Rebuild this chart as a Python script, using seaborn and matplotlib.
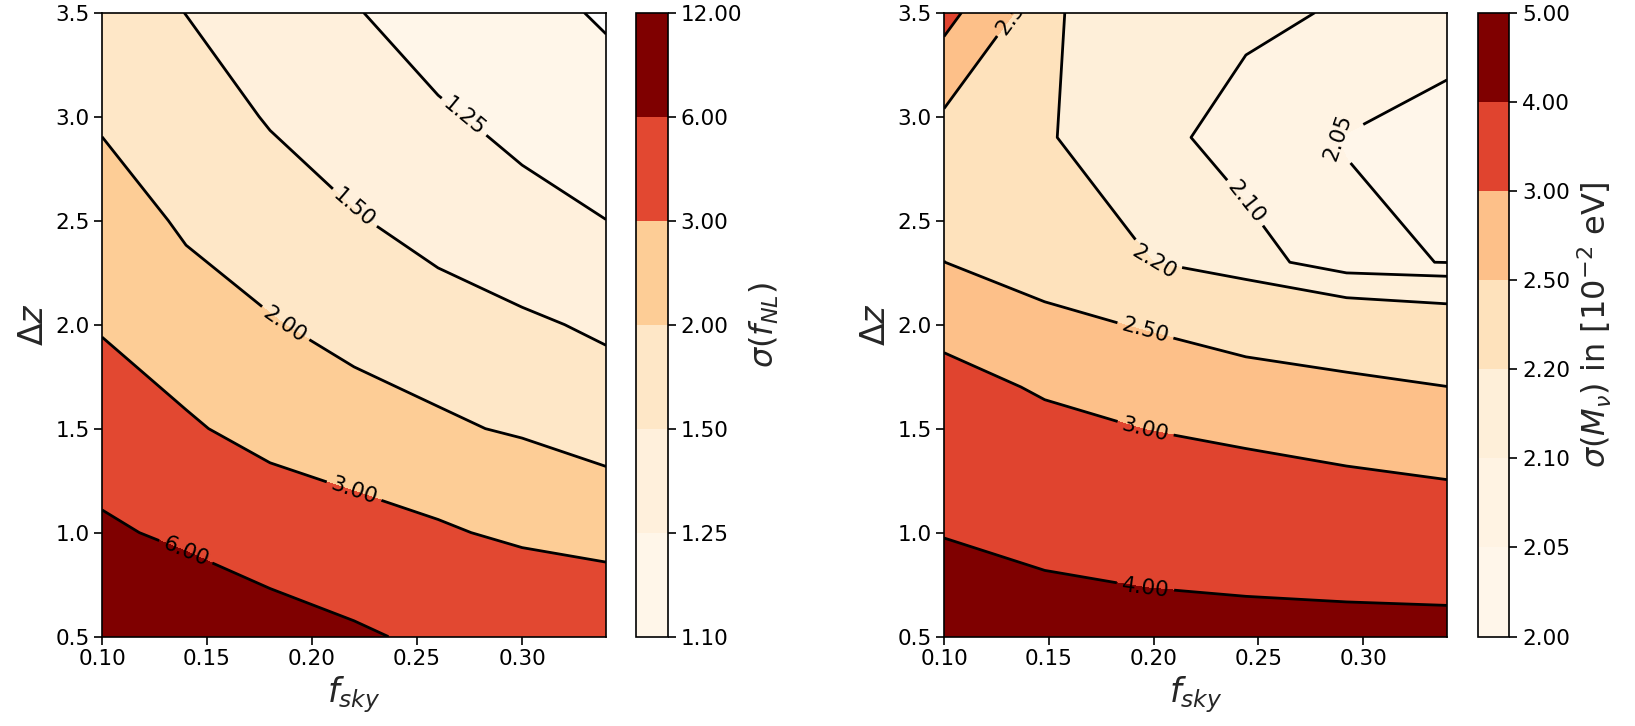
import numpy as np
import matplotlib
matplotlib.use("Agg")
import matplotlib.pyplot as plt
import seaborn as sns

# grid of the f_NL forecast (rows: dz, columns: fsky)
fsky_fnl = [0.10, 0.14, 0.18, 0.22, 0.26, 0.30, 0.34]
dz_fnl = [0.5, 1.0, 1.5, 2.0, 2.5, 3.0, 3.5]
sigma_fnl = [
    [11.50, 9.19, 7.79, 6.45, 5.35, 4.19, 4.01],
    [6.56, 5.30, 3.92, 3.49, 3.13, 2.80, 2.60],
    [4.00, 3.165, 2.55, 2.263, 2.103, 1.92, 1.657],
    [2.864, 2.259, 2.038, 1.82, 1.62, 1.54, 1.461],
    [2.30, 1.92, 1.697, 1.521, 1.40, 1.301, 1.251],
    [1.928, 1.70, 1.47, 1.34, 1.27, 1.2055, 1.154],
    [1.72, 1.495, 1.33, 1.26, 1.173, 1.14, 1.086],
]
levels_fnl = [1.10, 1.25, 1.50, 2.00, 3.00, 6.00, 12.00]

# grid of the neutrino mass forecast, in 1e-2 eV
fsky_mnu = [0.100, 0.148, 0.196, 0.244, 0.292, 0.340]
dz_mnu = [0.5, 1.1, 1.7, 2.3, 2.9, 3.5]
sigma_mnu = [
    [4.98, 4.55, 4.324, 4.289, 4.287, 4.276],
    [3.74, 3.514, 3.498, 3.394, 3.255, 3.173],
    [3.189, 2.942, 2.741, 2.617, 2.56, 2.502],
    [2.502, 2.295, 2.206, 2.1333, 2.057, 2.049],
    [2.30, 2.21, 2.13, 2.064, 2.0486, 2.02],
    [3.165, 2.2125, 2.15, 2.1185, 2.0915, 2.085],
]
levels_mnu = [2.00, 2.05, 2.10, 2.20, 2.50, 3.00, 4.00, 5.00]

sns.set_style("ticks")
plt.rcParams["font.family"] = ["DejaVu Sans"]
plt.rcParams["axes.linewidth"] = 1.2
plt.rcParams["xtick.major.width"] = 1.2
plt.rcParams["ytick.major.width"] = 1.2
plt.rcParams["xtick.major.size"] = 5.5
plt.rcParams["ytick.major.size"] = 5.5
plt.rcParams["xtick.color"] = "black"
plt.rcParams["ytick.color"] = "black"
plt.rcParams["axes.edgecolor"] = "black"

cmap = sns.color_palette("OrRd", as_cmap=True)

fig = plt.figure(figsize=(16.35, 7.26), dpi=100)
ax1 = fig.add_axes([0.0624, 0.1231, 0.3083, 0.8595])
cax1 = fig.add_axes([0.389, 0.1231, 0.0196, 0.8595])
ax2 = fig.add_axes([0.5774, 0.1231, 0.3077, 0.8595])
cax2 = fig.add_axes([0.9042, 0.1231, 0.0190, 0.8595])


def draw_panel(ax, cax, fsky, dz, sigma, levels, vmax, label, label_size):
    X, Y = np.meshgrid(fsky, dz)
    Z = np.array(sigma)
    cf = ax.contourf(X, Y, Z, levels=levels, cmap=cmap, vmin=levels[0], vmax=vmax)
    cs = ax.contour(X, Y, Z, levels=levels, colors="black", linewidths=2.0)
    ax.clabel(cs, fmt="%.2f", fontsize=15.5, inline=True)
    ax.set_xlabel(r"$f_{sky}$", fontsize=24)
    ax.set_ylabel(r"$\Delta z$", fontsize=24)
    ax.tick_params(labelsize=15.5)
    cbar = fig.colorbar(cf, cax=cax, format="%.2f")
    cbar.ax.tick_params(labelsize=15.5, width=1.2, length=5.5)
    cbar.outline.set_linewidth(1.2)
    cbar.set_label(label, fontsize=label_size)
    return cf


draw_panel(ax1, cax1, fsky_fnl, dz_fnl, sigma_fnl, levels_fnl, 6.0,
           r"$\sigma(f_{NL})$", 23)
draw_panel(ax2, cax2, fsky_mnu, dz_mnu, sigma_mnu, levels_mnu, 4.14,
           r"$\sigma(M_\nu)$ in [$10^{-2}$ eV]", 23)

fig.savefig("out.png", dpi=100)
